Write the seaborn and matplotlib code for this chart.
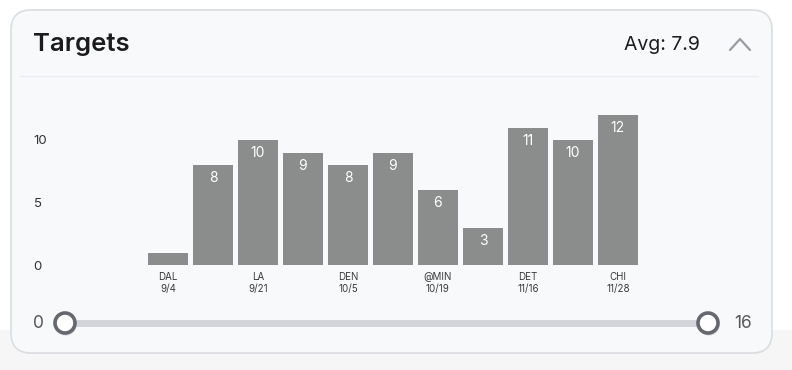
import numpy as np
import pandas as pd
import seaborn as sns
import matplotlib.pyplot as plt
from matplotlib.patches import FancyBboxPatch, Circle

# data
games = ["DAL", "", "LA", "", "DEN", "", "@MIN", "", "DET", "", "CHI"]
dates = ["9/4", "", "9/21", "", "10/5", "", "10/19", "", "11/16", "", "11/28"]
targets = [1, 8, 10, 9, 8, 9, 6, 3, 11, 10, 12]
yticks = [0, 5, 10]
range_min, range_max = 0, 16

df = pd.DataFrame({"game": range(len(targets)), "targets": targets})
avg = np.mean(targets)

sns.set_theme(style="white")
plt.rcParams["font.family"] = ["Inter", "DejaVu Sans"]

W, H = 792, 370
fig = plt.figure(figsize=(W / 100, H / 100), dpi=100)
fig.patch.set_facecolor("white")

# background / card layer in pixel coords
bg = fig.add_axes([0, 0, 1, 1])
bg.set_xlim(0, W)
bg.set_ylim(H, 0)
bg.axis("off")
bg.add_patch(plt.Rectangle((0, 330), W, 40, color="#f6f6f7", zorder=0))
bg.add_patch(FancyBboxPatch((12, 12), 760, 342, boxstyle="round,pad=0,rounding_size=20",
                            fc="#e6e7e9", ec="none", zorder=1))
bg.add_patch(FancyBboxPatch((11, 10), 761, 343, boxstyle="round,pad=0,rounding_size=20",
                            fc="#f8f9fb", ec="#dcdde0", lw=1.2, zorder=2))
bg.plot([20, 758], [76, 76], color="#eceef1", lw=1, zorder=3)
bg.text(33, 45, "Targets", fontsize=18.5, fontweight="semibold", color="#1c1c1e",
        va="center", ha="left", zorder=4)
bg.text(700, 45, f"Avg: {avg:.1f}", fontsize=14, color="#1c1c1e",
        va="center", ha="right", zorder=4)
bg.plot([730, 740, 750], [50, 39, 50], color="#9a9ca1", lw=1.6, zorder=4,
        solid_capstyle="round", solid_joinstyle="round")

# slider
sx0, sx1, sy = 65, 708, 323
bg.plot([sx0, sx1], [sy, sy], color="#d2d4da", lw=5, solid_capstyle="butt", zorder=4)
for cx in (sx0, sx1):
    bg.add_patch(Circle((cx + 1, sy + 2), 10.5, fc="#d3d4d8", ec="none", zorder=5))
    bg.add_patch(Circle((cx, sy), 10, fc="white", ec="#65686e", lw=2.6, zorder=6))
bg.text(44, sy + 1, str(range_min), fontsize=12.5, color="#555759", ha="right", va="center", zorder=6)
bg.text(734, sy + 1, str(range_max), fontsize=12.5, color="#555759", ha="left", va="center", zorder=6)

# bar chart
ax = fig.add_axes([60 / W, (H - 265) / H, 700 / W, 170 / H])
ax.set_facecolor("none")
sns.barplot(data=df, x="game", y="targets", color="#8b8c8c", saturation=1,
            width=0.89, ax=ax, zorder=3)
for p, v in zip(ax.patches, targets):
    p.set_edgecolor("none")
    if v < 2:
        continue
    x = p.get_x() + p.get_width() / 2
    ax.text(x, v - 0.5, str(v), ha="center", va="top", color="white", fontsize=10, zorder=4)

ax.set_xlim(-2.4, 13.16)
ax.set_ylim(0, 13.6)
ax.set_yticks(yticks)
ax.set_yticklabels([str(t) for t in yticks], fontsize=9.5, color="#333333")
for lbl in ax.get_yticklabels():
    lbl.set_ha("left")
ax.tick_params(axis="y", length=0, pad=19)
tick_pos = [i for i, g in enumerate(games) if g]
ax.set_xticks(tick_pos)
ax.set_xticklabels([f"{games[i]}\n{dates[i]}" for i in tick_pos], fontsize=7,
                   color="#3a3a3c", linespacing=1.25)
ax.tick_params(axis="x", length=0, pad=5)
ax.set_xlabel("")
ax.set_ylabel("")
sns.despine(ax=ax, left=True, bottom=True)

fig.savefig("out.png", dpi=100, facecolor=fig.get_facecolor())
